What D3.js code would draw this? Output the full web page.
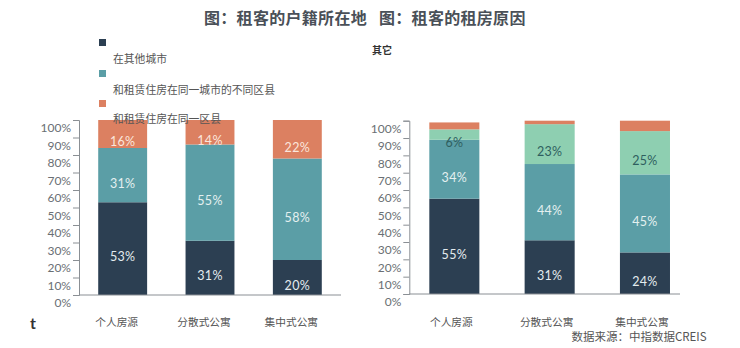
<!DOCTYPE html>
<html><head><meta charset="utf-8">
<script src="https://cdn.jsdelivr.net/npm/d3@7"></script>
<style>
body{margin:0;background:#fff;}
text{font-family:Lato,"Noto Sans CJK SC",sans-serif;}
</style></head>
<body><svg id="c" width="740" height="348"></svg>
<script>
const categories = ["个人房源","分散式公寓","集中式公寓"];
const titles = ["图：租客的户籍所在地","图：租客的租房原因"];
// left chart: 户籍所在地
const leftSeries = ["在其他城市","和租赁住房在同一城市的不同区县","和租赁住房在同一区县"];
const leftOther = [53,31,20];
const leftSameCity = [31,55,58];
const leftSameDistrict = [16,14,22];
// right chart: 租房原因
const rightA = [55,31,24];
const rightB = [34,44,45];
const rightC = [6,23,25];
const rightOther = [4,2,6];
const yTicks = [0,10,20,30,40,50,60,70,80,90,100];

const colDark="#2c3f52", colTeal="#5b9ea6", colOrange="#dc8061", colLight="#8ecfb1";
const svg=d3.select("#c");

[204,379].forEach((tx,i)=>{
  svg.append("text").attr("x",tx).attr("y",18).attr("dy","0.35em")
    .attr("font-size",16).attr("font-weight",700).attr("fill","#4a5058").attr("letter-spacing",0.3)
    .style("font-family","'Noto Sans CJK SC',sans-serif")
    .text(titles[i]);
});

function chart(cfg){
  const g=svg.append("g");
  const x=d3.scaleBand().domain(categories).range(cfg.xr).paddingInner(cfg.pi).paddingOuter(cfg.po);
  const y=d3.scaleLinear().domain([0,100]).range([cfg.y0,cfg.y1]);
  cfg.series.forEach((s,si)=>{
    categories.forEach((c,ci)=>{
      let base=0; for(let k=0;k<si;k++) base+=cfg.series[k].values[ci];
      const v=s.values[ci];
      g.append("rect").attr("x",x(c)).attr("width",x.bandwidth())
        .attr("y",y(base+v)).attr("height",y(base)-y(base+v)).attr("fill",s.color);
      if(s.label){
        g.append("text").attr("x",x(c)+x.bandwidth()/2).attr("y",y(base+v/2)+8).attr("dy","0.35em")
          .attr("text-anchor","middle").attr("font-size",12.5).attr("fill",s.labelColor).attr("letter-spacing",0.3)
          .text(v+"%");
      }
    });
  });
  const ax=g.append("g").attr("transform",`translate(${cfg.ax},0)`)
    .call(d3.axisLeft(y).tickValues(yTicks).tickSize(6).tickFormat(d=>d+"%"));
  ax.select(".domain").attr("stroke","#8a8f94");
  ax.selectAll(".tick line").attr("stroke","#8a8f94");
  ax.selectAll(".tick text").attr("y",8).attr("x",-8).attr("font-size",12).attr("fill","#6a6f74")
    .style("font-family","Lato,sans-serif");
  g.append("line").attr("x1",cfg.ax).attr("x2",cfg.xEnd).attr("y1",cfg.y0).attr("y2",cfg.y0)
    .attr("stroke","#8a8f94");
  categories.forEach(c=>{
    g.append("text").attr("x",x(c)+x.bandwidth()/2+cfg.dx).attr("y",322).attr("dy","0.35em")
      .attr("text-anchor","middle").attr("font-size",10.7).attr("fill","#555")
      .style("font-family","'Noto Sans CJK SC',sans-serif").text(c);
  });
}

chart({xr:[79,341],pi:0.44,po:0.22,y0:295,y1:120,ax:79,xEnd:341,dx:-6,
  series:[
    {values:leftOther,color:colDark,label:true,labelColor:"#e4ecef"},
    {values:leftSameCity,color:colTeal,label:true,labelColor:"#e4f0f0"},
    {values:leftSameDistrict,color:colOrange,label:true,labelColor:"#fbe6dc"}
  ]});
chart({xr:[409.3,690],pi:0.475,po:0.21,y0:294,y1:120.7,ax:409.3,xEnd:680,dx:-3,
  series:[
    {values:rightA,color:colDark,label:true,labelColor:"#e4ecef"},
    {values:rightB,color:colTeal,label:true,labelColor:"#e4f0f0"},
    {values:rightC,color:colLight,label:true,labelColor:"#2f5f5f"},
    {values:rightOther,color:colOrange,label:false}
  ]});

const legColors=[colDark,colTeal,colOrange];
const legY=[39,70,100], legTY=[59,90,119];
leftSeries.forEach((s,i)=>{
  svg.append("rect").attr("x",99).attr("y",legY[i]).attr("width",7).attr("height",7).attr("fill",legColors[i]);
  svg.append("text").attr("x",113).attr("y",legTY[i]).attr("dy","0.35em").attr("font-size",10.8)
    .attr("fill","#555").style("font-family","'Noto Sans CJK SC',sans-serif").text(s);
});
svg.append("text").attr("x",372).attr("y",50).attr("dy","0.35em").attr("font-size",10)
  .attr("font-weight",700).attr("fill","#333").style("font-family","'Noto Sans CJK SC',sans-serif").text("其它");

svg.append("text").attr("x",30).attr("y",323).attr("dy","0.35em").attr("font-size",16)
  .attr("font-weight",700).attr("fill","#333").style("font-family","Lato,sans-serif").text("t");

svg.append("text").attr("x",639).attr("y",337).attr("dy","0.35em").attr("text-anchor","middle")
  .attr("font-size",11.5).attr("fill","#555").style("font-family","'Noto Sans CJK SC',sans-serif")
  .text("数据来源：中指数据CREIS");
</script></body></html>
